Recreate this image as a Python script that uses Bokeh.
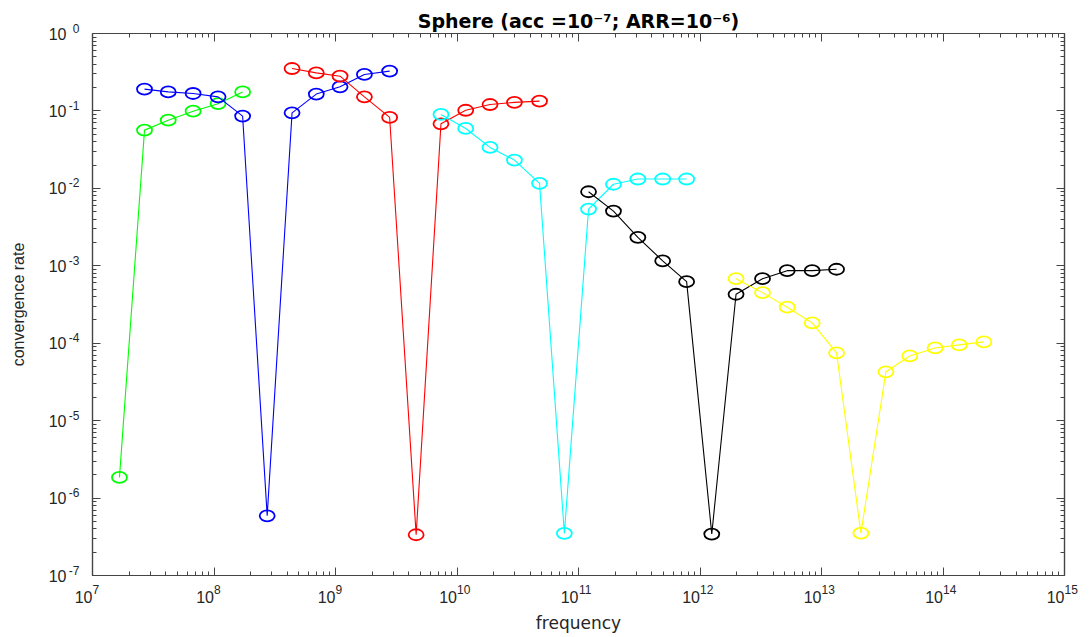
from bokeh.plotting import figure
from bokeh.models import (Range1d, LogAxis, FixedTicker, ColumnDataSource,
                          CustomJSTickFormatter)
from bokeh.embed import file_html
from bokeh.resources import INLINE

# ---------------- data ----------------
green_x = [1.667e7, 2.68e7, 4.20e7, 6.73e7, 1.08e8, 1.72e8]
green_y = [1.85e-6, 0.0565, 0.076, 0.0993, 0.124, 0.176]

blue_x = [2.68e7, 4.20e7, 6.73e7, 1.08e8, 1.72e8, 2.74e8,
          4.39e8, 6.95e8, 1.09e9, 1.73e9, 2.79e9]
blue_y = [0.191, 0.176, 0.168, 0.152, 0.0857, 5.9e-7,
          0.0944, 0.165, 0.205, 0.296, 0.327]

red_x = [4.39e8, 6.95e8, 1.09e9, 1.73e9, 2.79e9, 4.61e9,
         7.38e9, 1.18e10, 1.87e10, 2.97e10, 4.78e10]
red_y = [0.353, 0.310, 0.281, 0.152, 0.0824, 3.36e-7,
         0.0682, 0.102, 0.121, 0.129, 0.134]

cyan_x = [7.38e9, 1.18e10, 1.87e10, 2.97e10, 4.78e10, 7.65e10,
          1.21e11, 1.94e11, 3.08e11, 4.93e11, 7.76e11]
cyan_y = [0.0902, 0.0594, 0.0338, 0.0232, 0.0116, 3.5e-7,
          0.0054, 0.0113, 0.0132, 0.0132, 0.0132]

black_x = [1.21e11, 1.94e11, 3.08e11, 4.93e11, 7.76e11, 1.25e12,
           1.98e12, 3.27e12, 5.22e12, 8.38e12, 1.33e13]
black_y = [9.04e-3, 5.09e-3, 2.33e-3, 1.16e-3, 6.24e-4, 3.43e-7,
           4.29e-4, 6.82e-4, 8.65e-4, 8.65e-4, 9.02e-4]

yellow_x = [1.98e12, 3.27e12, 5.22e12, 8.38e12, 1.33e13, 2.11e13,
            3.39e13, 5.33e13, 8.61e13, 1.36e14, 2.17e14]
yellow_y = [6.82e-4, 4.50e-4, 2.92e-4, 1.83e-4, 7.50e-5, 3.53e-7,
            4.27e-5, 6.85e-5, 8.69e-5, 9.51e-5, 1.04e-4]

series = [
    (green_x, green_y, "#00ff00"),
    (blue_x, blue_y, "#0000ff"),
    (red_x, red_y, "#ff0000"),
    (cyan_x, cyan_y, "#00ffff"),
    (black_x, black_y, "#000000"),
    (yellow_x, yellow_y, "#ffff00"),
]

x_decades = [7, 8, 9, 10, 11, 12, 13, 14, 15]
y_decades = [-7, -6, -5, -4, -3, -2, -1, 0]

title_text = "Sphere (acc =10\u207b\u2077; ARR=10\u207b\u2076)"
x_label = "frequency"
y_label = "convergence rate"

FONT = "Liberation Sans"
AX = "#444444"
TXT = "#262626"

XMIN, XMAX = 10.0 ** x_decades[0], 10.0 ** x_decades[-1]
YMIN, YMAX = 10.0 ** y_decades[0], 10.0 ** y_decades[-1]

p = figure(width=1083, height=635, output_backend="svg", toolbar_location=None,
           x_axis_type="log", y_axis_type="log",
           x_range=Range1d(XMIN, XMAX), y_range=Range1d(YMIN, YMAX),
           min_border_left=92, min_border_right=19, min_border_top=33,
           min_border_bottom=60)

p.grid.visible = False
p.outline_line_color = AX
p.outline_line_width = 1.2
p.background_fill_color = "white"
p.border_fill_color = "white"

p.title.text = title_text
p.title.align = "center"
p.title.text_font = "DejaVu Sans"
p.title.text_font_size = "19px"
p.title.text_font_style = "bold"
p.title.text_color = "#000000"
p.title.standoff = 4


def make_ticker(decades):
    majors = [10.0 ** d for d in decades]
    minors = [k * 10.0 ** d for d in decades[:-1] for k in range(2, 10)]
    return FixedTicker(ticks=majors, minor_ticks=minors)


def style_ticks(ax):
    ax.axis_line_color = AX
    ax.axis_line_width = 1.2
    ax.major_tick_line_color = AX
    ax.minor_tick_line_color = AX
    ax.major_tick_in = 8
    ax.major_tick_out = 0
    ax.minor_tick_in = 4
    ax.minor_tick_out = 0


def hide_labels(ax):
    ax.major_label_text_font_size = "1px"
    ax.major_label_text_alpha = 0
    ax.major_label_standoff = 0


def label_only(ax):
    ax.axis_line_color = None
    ax.major_tick_line_color = None
    ax.minor_tick_line_color = None
    ax.major_tick_in = 0
    ax.major_tick_out = 0
    ax.minor_tick_in = 0
    ax.minor_tick_out = 0


def text_style(ax, size):
    ax.major_label_text_font = FONT
    ax.major_label_text_font_size = f"{size}px"
    ax.major_label_text_color = TXT


# exponent text; PAD shifts it right of the tick (x axis),
# RAISE adds an empty second line so the exponent sits higher (y axis)
EXP = """
const e = Math.round(Math.log(tick) / Math.LN10);
const s = String(e);
return (PAD ? '\\u2007'.repeat(s.length) : '') + s + (RAISE ? '\\n' : '');
"""
BASE = "return '10' + (PAD ? '\\u2007\\u2007' : '');"

# ---- x axis: exponent row (with ticks) next to frame, "10" row below ----
p.xaxis.ticker = make_ticker(x_decades)
style_ticks(p.xaxis[0])
text_style(p.xaxis[0], 12)
p.xaxis.formatter = CustomJSTickFormatter(
    code=EXP.replace("PAD", "true").replace("RAISE", "false"))
p.xaxis.major_label_standoff = 7

xbase = LogAxis(ticker=make_ticker(x_decades),
                formatter=CustomJSTickFormatter(code=BASE.replace("PAD", "true")))
label_only(xbase)
text_style(xbase, 16)
xbase.major_label_standoff = -11
xbase.axis_label = x_label
xbase.axis_label_text_font = "DejaVu Sans"
xbase.axis_label_text_font_size = "17px"
xbase.axis_label_text_font_style = "normal"
xbase.axis_label_text_color = TXT
xbase.axis_label_standoff = 4
p.add_layout(xbase, "below")

# ---- y axis: exponent column next to frame, "10" column to its left ----
p.yaxis.ticker = make_ticker(y_decades)
style_ticks(p.yaxis[0])
text_style(p.yaxis[0], 12)
p.yaxis.major_label_text_line_height = 0.7
p.yaxis.formatter = CustomJSTickFormatter(
    code=EXP.replace("PAD", "false").replace("RAISE", "true"))
p.yaxis.major_label_standoff = 13

ybase = LogAxis(ticker=make_ticker(y_decades),
                formatter=CustomJSTickFormatter(code=BASE.replace("PAD", "false")))
label_only(ybase)
text_style(ybase, 16)
ybase.major_label_standoff = -1
ybase.axis_label = y_label
ybase.axis_label_text_font = FONT
ybase.axis_label_text_font_size = "16px"
ybase.axis_label_text_font_style = "normal"
ybase.axis_label_text_color = TXT
ybase.axis_label_standoff = 19
p.add_layout(ybase, "left")

# ---- box: ticks on top and right ----
top = LogAxis(ticker=make_ticker(x_decades))
style_ticks(top)
hide_labels(top)
p.add_layout(top, "above")
right = LogAxis(ticker=make_ticker(y_decades))
style_ticks(right)
hide_labels(right)
p.add_layout(right, "right")

for xs, ys, col in series:
    src = ColumnDataSource(dict(x=xs, y=ys))
    p.line("x", "y", source=src, line_color=col, line_width=1.1)
    p.ellipse("x", "y", source=src, width=15, height=11,
              width_units="screen", height_units="screen",
              fill_color=None, line_color=col, line_width=1.8)

open("out.html", "w").write(file_html(p, INLINE))
